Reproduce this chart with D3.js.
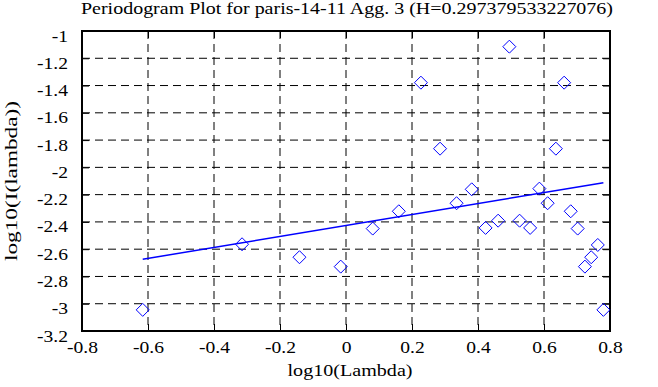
<!DOCTYPE html>
<html>
<head>
<meta charset="utf-8">
<script src="https://cdn.jsdelivr.net/npm/d3@7"></script>
<style>
    body { margin: 0; background: #fff; }
    text { font-family: "Liberation Serif", "DejaVu Serif", serif; fill: #000; }
</style>
</head>
<body>
<div id="chart"></div>
<script>
// values
const logLambda = [-0.616, -0.315, -0.141, -0.016, 0.081, 0.160, 0.227, 0.285, 0.335, 0.381,
    0.423, 0.461, 0.495, 0.526, 0.558, 0.586, 0.611, 0.636, 0.661, 0.681,
    0.702, 0.724, 0.743, 0.763, 0.780]
const logI = [-3.045, -2.564, -2.659, -2.728, -2.449, -2.322, -1.379, -1.863, -2.263, -2.161,
    -2.444, -2.391, -1.115, -2.391, -2.444, -2.156, -2.263, -1.863, -1.379, -2.322,
    -2.449, -2.728, -2.659, -2.569, -3.045]
const fitX = [-0.616, 0.780]
const fitY = [-2.674, -2.112]
const xTicks = [-0.8, -0.6, -0.4, -0.2, 0, 0.2, 0.4, 0.6, 0.8]
const yTicks = [-1, -1.2, -1.4, -1.6, -1.8, -2, -2.2, -2.4, -2.6, -2.8, -3, -3.2]

const W = 658, H = 387
const mLeft = 82, mRight = 610, mTop = 31, mBottom = 331
const serif = '"Liberation Serif", "DejaVu Serif", serif'

const svg = d3.select('#chart').append('svg')
    .attr('width', W)
    .attr('height', H)

const x = d3.scaleLinear().domain([-0.8, 0.8]).range([mLeft, mRight])
const y = d3.scaleLinear().domain([-3.2, -1]).range([mBottom, mTop])

// dashed grid
svg.append('g').selectAll('line').data(xTicks.slice(1, -1)).join('line')
    .attr('x1', d => x(d)).attr('x2', d => x(d))
    .attr('y1', mTop).attr('y2', mBottom)
    .attr('stroke', '#000').attr('stroke-dasharray', '8,5')
svg.append('g').selectAll('line').data(yTicks.slice(1, -1)).join('line')
    .attr('x1', mLeft).attr('x2', mRight)
    .attr('y1', d => y(d)).attr('y2', d => y(d))
    .attr('stroke', '#000').attr('stroke-dasharray', '8,5')

// axes with inward ticks on all sides
const fmt = d => String(+d.toFixed(1))
const gx = svg.append('g')
    .attr('transform', `translate(0,${mBottom})`)
    .call(d3.axisBottom(x).tickValues(xTicks).tickSizeInner(-7).tickSizeOuter(0).tickFormat(fmt))
gx.selectAll('.tick text').attr('y', 22).attr('dy', null)
const gy = svg.append('g')
    .attr('transform', `translate(${mLeft},0)`)
    .call(d3.axisLeft(y).tickValues(yTicks).tickSizeInner(-7).tickSizeOuter(0).tickFormat(fmt))
gy.selectAll('.tick text').attr('x', -14).attr('dy', null).attr('y', 10)
svg.append('g')
    .attr('transform', `translate(0,${mTop})`)
    .call(d3.axisTop(x).tickValues(xTicks).tickSizeInner(-7).tickSizeOuter(0).tickFormat(''))
svg.append('g')
    .attr('transform', `translate(${mRight},0)`)
    .call(d3.axisRight(y).tickValues(yTicks).tickSizeInner(-7).tickSizeOuter(0).tickFormat(''))

svg.selectAll('.domain').remove()
svg.selectAll('g').attr('font-family', serif)
svg.selectAll('.tick line').attr('stroke', '#000').attr('stroke-width', 1)
svg.selectAll('.tick text')
    .attr('font-size', '17px')
    .style('font-family', serif)
    .attr('fill', '#000')
    .each(function () {
        const len = this.getComputedTextLength()
        d3.select(this).attr('textLength', len * 1.15).attr('lengthAdjust', 'spacingAndGlyphs')
    })

svg.append('rect')
    .attr('x', mLeft).attr('y', mTop)
    .attr('width', mRight - mLeft).attr('height', mBottom - mTop)
    .attr('fill', 'none').attr('stroke', '#000').attr('stroke-width', 2)

// fit line
svg.append('path')
    .datum(d3.zip(fitX, fitY))
    .attr('d', d3.line().x(d => x(d[0])).y(d => y(d[1])))
    .attr('stroke', '#0000ff').attr('stroke-width', 1.5).attr('fill', 'none')

// diamonds
const s = 6.5
svg.append('g').selectAll('path').data(d3.zip(logLambda, logI)).join('path')
    .attr('d', d => `M${x(d[0])},${y(d[1]) - s}L${x(d[0]) + s},${y(d[1])}L${x(d[0])},${y(d[1]) + s}L${x(d[0]) - s},${y(d[1])}Z`)
    .attr('fill', 'none').attr('stroke', '#0000ff').attr('stroke-width', 1)

// labels
svg.append('text')
    .attr('x', 347).attr('y', 14)
    .attr('text-anchor', 'middle').attr('font-size', '17px')
    .attr('textLength', 532).attr('lengthAdjust', 'spacingAndGlyphs')
    .text('Periodogram Plot for paris-14-11 Agg. 3 (H=0.297379533227076)')
svg.append('text')
    .attr('x', 350).attr('y', 376)
    .attr('text-anchor', 'middle').attr('font-size', '17px')
    .attr('textLength', 125).attr('lengthAdjust', 'spacingAndGlyphs')
    .text('log10(Lambda)')
svg.append('text')
    .attr('transform', `translate(17,181) rotate(-90)`)
    .attr('text-anchor', 'middle').attr('font-size', '17px')
    .attr('textLength', 160).attr('lengthAdjust', 'spacingAndGlyphs')
    .text('log10(I(lambda))')
</script>
</body>
</html>
